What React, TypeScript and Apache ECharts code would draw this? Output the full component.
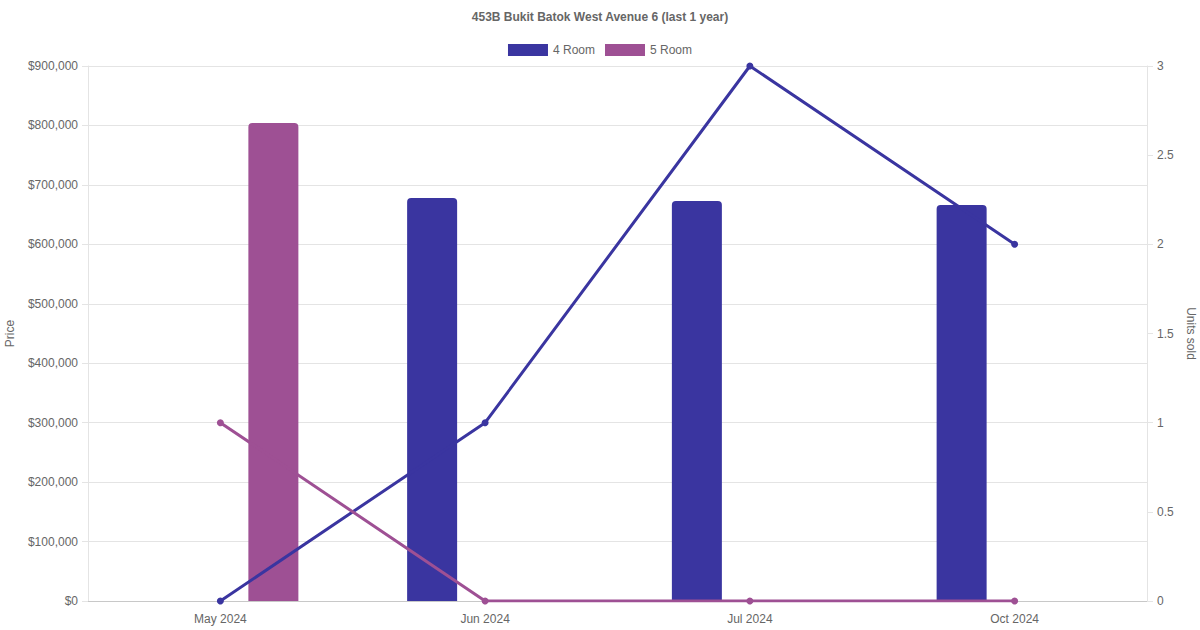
import React, { useEffect, useRef } from 'react';
import * as echarts from 'echarts';

const months = ['May 2024', 'Jun 2024', 'Jul 2024', 'Oct 2024'];
const price4Room = [null, 678000, 673000, 666000];
const price5Room = [804000, null, null, null];
const units4Room = [0, 1, 3, 2];
const units5Room = [1, 0, 0, 0];

const BLUE = '#3a35a0';
const PURPLE = '#9e5094';
const TEXT = '#666';
const FONT = '"Liberation Sans", Arial, sans-serif';

function App() {
  const chartRef = useRef<HTMLDivElement>(null);

  useEffect(() => {
    document.body.style.margin = '0';
    document.body.style.overflow = 'hidden';
    if (!chartRef.current) return undefined;
    const chart = echarts.init(chartRef.current, undefined, { renderer: 'svg' });
    const barStyle = (color: string) => ({
      color,
      borderRadius: [4, 4, 0, 0],
    });
    chart.setOption({
      animation: false,
      textStyle: { fontFamily: FONT, color: TEXT },
      title: {
        text: '453B Bukit Batok West Avenue 6 (last 1 year)',
        left: 'center',
        top: 6,
        textStyle: { fontFamily: FONT, fontSize: 12, fontWeight: 'bold', color: TEXT },
      },
      legend: {
        top: 39,
        left: 'center',
        itemWidth: 40,
        itemHeight: 12,
        itemGap: 10,
        icon: 'rect',
        textStyle: { fontFamily: FONT, fontSize: 12, color: TEXT },
        data: [
          { name: '4 Room', itemStyle: { color: BLUE } },
          { name: '5 Room', itemStyle: { color: PURPLE } },
        ],
      },
      grid: {
        left: 88,
        right: 53,
        top: 66,
        bottom: 29,
        containLabel: false,
        outerBoundsMode: 'none',
      },
      xAxis: {
        type: 'category',
        data: months,
        boundaryGap: true,
        axisLine: { lineStyle: { color: '#c8c8c8' } },
        axisTick: { show: false },
        axisLabel: { color: TEXT, fontSize: 12, margin: 12, fontFamily: FONT },
        splitLine: { show: false },
      },
      yAxis: [
        {
          type: 'value',
          name: 'Price',
          nameLocation: 'middle',
          nameGap: 72,
          nameTextStyle: { color: TEXT, fontSize: 12, fontFamily: FONT },
          min: 0,
          max: 900000,
          interval: 100000,
          axisLine: { show: true, lineStyle: { color: '#e4e4e4' } },
          axisTick: { show: true, length: 6, lineStyle: { color: '#e4e4e4' } },
          axisLabel: {
            color: TEXT,
            fontSize: 12,
            fontFamily: FONT,
            margin: 10,
            formatter: (v: number) => '$' + v.toLocaleString('en-US'),
          },
          splitLine: { lineStyle: { color: '#e4e4e4' } },
        },
        {
          type: 'value',
          name: 'Units sold',
          nameLocation: 'middle',
          nameGap: 34,
          nameRotate: -90,
          nameTextStyle: { color: TEXT, fontSize: 12, fontFamily: FONT },
          min: 0,
          max: 3,
          interval: 0.5,
          axisLine: { show: true, lineStyle: { color: '#e4e4e4' } },
          axisTick: { show: true, length: 6, lineStyle: { color: '#e4e4e4' } },
          axisLabel: { color: TEXT, fontSize: 12, fontFamily: FONT, margin: 10 },
          splitLine: { show: false },
        },
      ],
      series: [
        {
          name: '4 Room',
          type: 'bar',
          yAxisIndex: 0,
          data: price4Room,
          barWidth: 50,
          barGap: '112%',
          itemStyle: barStyle(BLUE),
          z: 2,
        },
        {
          name: '5 Room',
          type: 'bar',
          yAxisIndex: 0,
          data: price5Room,
          barWidth: 50,
          barGap: '112%',
          itemStyle: barStyle(PURPLE),
          z: 2,
        },
        {
          name: '4 Room',
          type: 'line',
          yAxisIndex: 1,
          data: units4Room,
          symbol: 'circle',
          symbolSize: 7,
          lineStyle: { color: BLUE, width: 3 },
          itemStyle: { color: BLUE },
          z: 3,
        },
        {
          name: '5 Room',
          type: 'line',
          yAxisIndex: 1,
          data: units5Room,
          symbol: 'circle',
          symbolSize: 7,
          lineStyle: { color: PURPLE, width: 3 },
          itemStyle: { color: PURPLE },
          z: 4,
        },
      ],
    });
    return () => {
      chart.dispose();
    };
  }, []);

  return <div ref={chartRef} style={{ width: 1200, height: 630 }} />;
}

export default App;
